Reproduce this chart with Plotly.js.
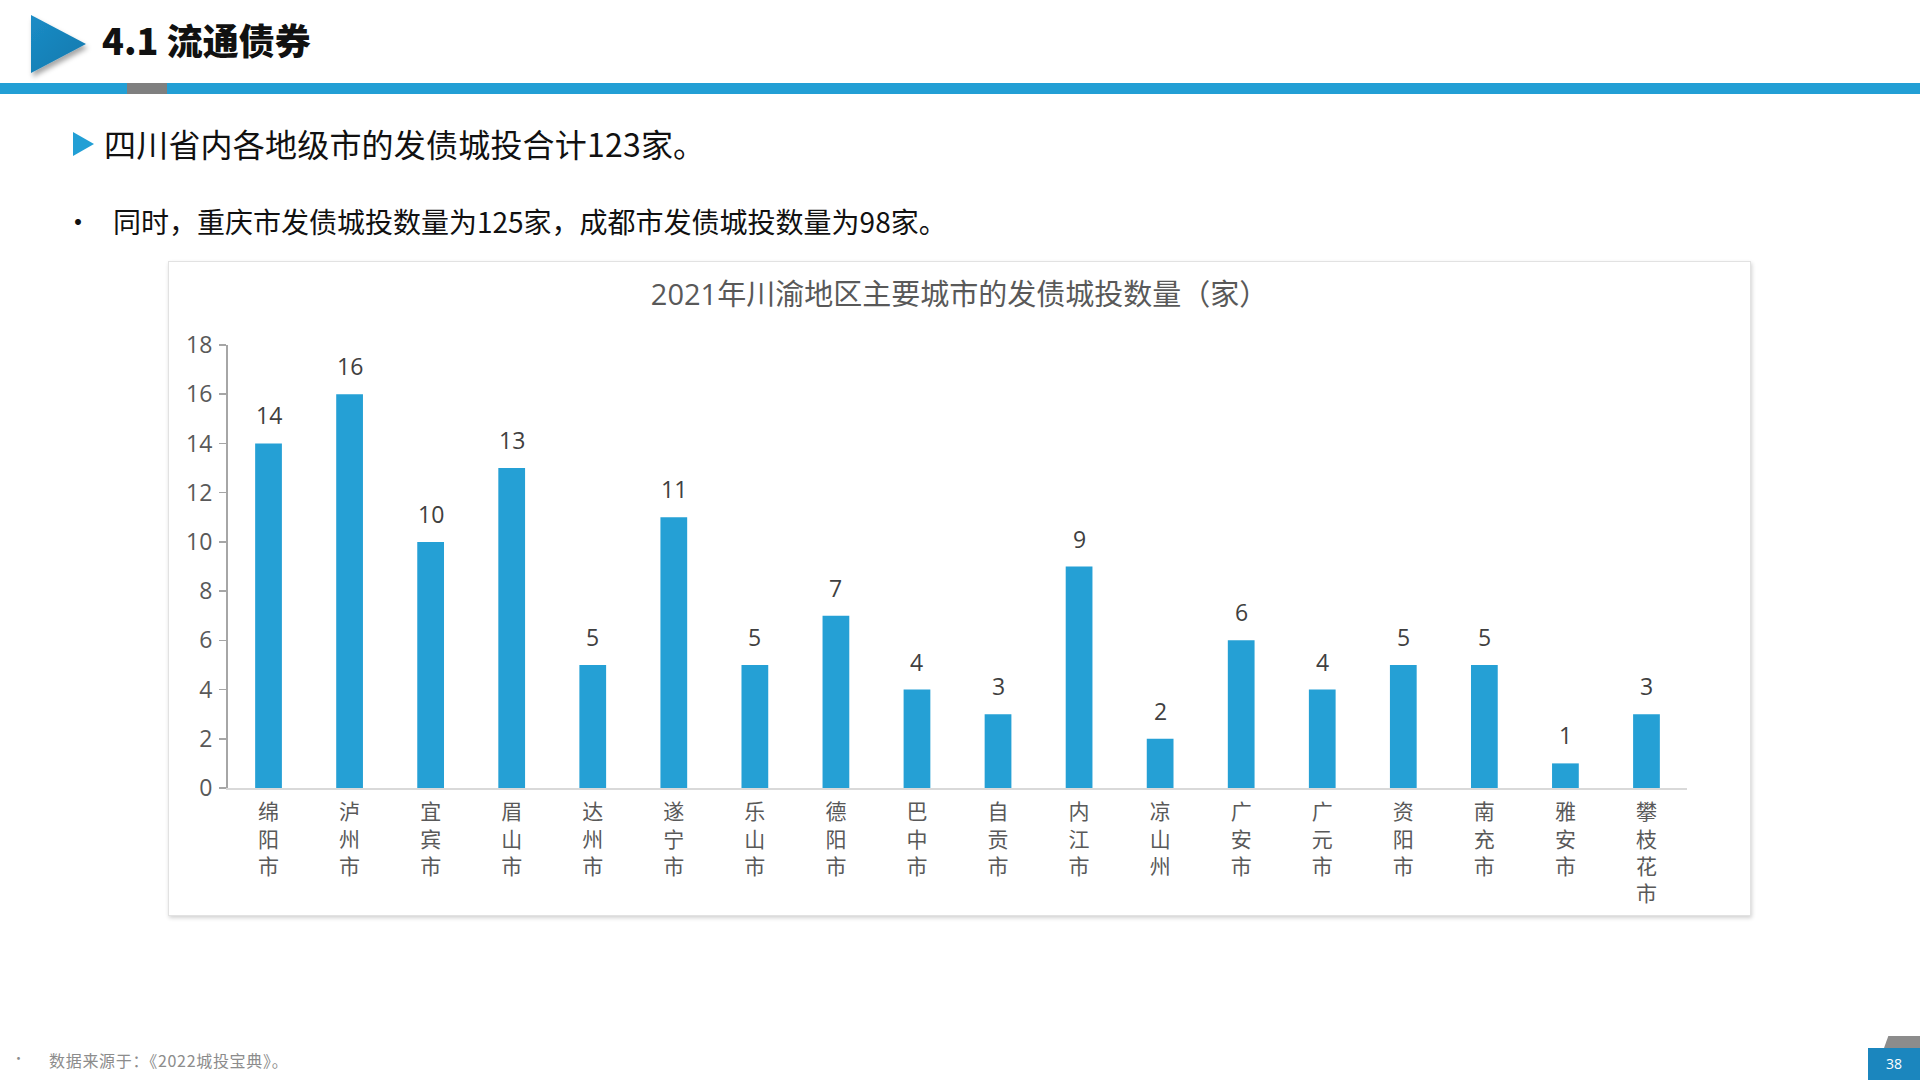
<!DOCTYPE html>
<html>
<head>
<meta charset="utf-8">
<script src="https://cdn.plot.ly/plotly-3.0.1.min.js"></script>
<style>
  html, body { margin:0; padding:0; background:#ffffff; }
  body { width:1920px; height:1080px; position:relative; overflow:hidden;
         font-family:"Noto Sans CJK SC","Microsoft YaHei",sans-serif; }
  .abs { position:absolute; }
  #hdrTitle { left:102px; top:15px; font-size:36px; font-weight:900; color:#111; line-height:48px; }
  #blueBar { left:0; top:83px; width:1920px; height:11px; background:#229FD5; }
  #grayBar { left:127px; top:83px; width:40px; height:11px; background:#7f7f7f; }
  #sub1 { left:104px; top:121px; font-size:32px; color:#111; line-height:44px; letter-spacing:0.2px; }
  #sub1tri { left:73px; top:132px; width:0; height:0; border-top:12px solid transparent; border-bottom:12px solid transparent; border-left:21px solid #229FD5; }
  #sub2 { left:113px; top:201px; font-size:28px; color:#111; line-height:40px; }
  #sub2dot { left:64px; top:201px; font-size:28px; color:#111; line-height:40px; }
  #chartBox { left:168px; top:261px; width:1583px; height:655px; border:1px solid #e2e2e2;
              box-shadow:1px 2px 4px rgba(0,0,0,0.18); background:#fff; box-sizing:border-box; }
  #chart { left:168px; top:261px; width:1583px; height:655px; }
  #foot { left:49px; top:1050px; font-size:16px; color:#8c8c8c; line-height:20px; letter-spacing:0.7px; }
  #footdot { left:12px; top:1048px; font-size:13px; color:#8c8c8c; line-height:20px; }
  #pgTab { left:1884px; top:1036px; width:36px; height:12px; background:#8c8c8c; clip-path:polygon(12% 0,100% 0,100% 100%,0 100%); }
  #pgBox { left:1868px; top:1048px; width:52px; height:32px; background:#1B86BE; color:#fff; font-size:14px; text-align:center; line-height:32px; font-family:"Open Sans",sans-serif; }
</style>
</head>
<body>
<svg class="abs" style="left:20px;top:8px" width="80" height="78">
  <defs>
    <filter id="sh" x="-20%" y="-20%" width="150%" height="150%">
      <feDropShadow dx="2" dy="4" stdDeviation="2.5" flood-color="#000" flood-opacity="0.35"/>
    </filter>
    <linearGradient id="tg" x1="0" y1="0" x2="1" y2="1">
      <stop offset="0" stop-color="#1b8cc6"/>
      <stop offset="1" stop-color="#1479ad"/>
    </linearGradient>
  </defs>
  <polygon points="11,7 66,36 11,65" fill="url(#tg)" filter="url(#sh)"/>
</svg>
<div id="hdrTitle" class="abs">4.1 流通债券</div>
<div id="blueBar" class="abs"></div>
<div id="grayBar" class="abs"></div>
<div id="sub1tri" class="abs"></div>
<div id="sub1" class="abs">四川省内各地级市的发债城投合计123家。</div>
<div id="sub2dot" class="abs">•</div>
<div id="sub2" class="abs">同时，重庆市发债城投数量为125家，成都市发债城投数量为98家。</div>
<div id="chartBox" class="abs"></div>
<div id="chart" class="abs"></div>
<div id="footdot" class="abs">•</div>
<div id="foot" class="abs">数据来源于：《2022城投宝典》。</div>
<div id="pgTab" class="abs"></div>
<div id="pgBox" class="abs">38</div>
<script>
const cities = ["绵阳市","泸州市","宜宾市","眉山市","达州市","遂宁市","乐山市","德阳市","巴中市","自贡市","内江市","凉山州","广安市","广元市","资阳市","南充市","雅安市","攀枝花市"];
const counts = [14,16,10,13,5,11,5,7,4,3,9,2,6,4,5,5,1,3];
const yTicks = [0,2,4,6,8,10,12,14,16,18];
const chartTitle = "2021年川渝地区主要城市的发债城投数量（家）";

const vertLabels = cities.map(c => Array.from(c).join("<br>"));

const trace = {
  type: "bar",
  x: cities,
  y: counts,
  marker: { color: "#25A0D5" },
  hoverinfo: "x+y"
};

const annotations = cities.map((c, i) => ({
  x: c, y: counts[i], xref: "x", yref: "y",
  text: String(counts[i]), showarrow: false,
  yanchor: "bottom", yshift: 10,
  font: { family: "Open Sans, Noto Sans, sans-serif", size: 23, color: "#404040" }
}));

const layout = {
  width: 1583, height: 655,
  margin: { l: 60, r: 64, t: 84, b: 128 },
  paper_bgcolor: "rgba(0,0,0,0)",
  plot_bgcolor: "rgba(0,0,0,0)",
  bargap: 0.67,
  showlegend: false,
  title: {
    text: chartTitle,
    x: 0.5, xanchor: "center",
    y: 1 - 34/655, yanchor: "middle",
    font: { family: "Open Sans, Noto Sans CJK SC, sans-serif", size: 29, color: "#595959" }
  },
  xaxis: {
    type: "category",
    tickvals: cities,
    ticktext: vertLabels,
    tickangle: 0,
    range: [-0.5, cities.length - 0.5],
    showline: true, linecolor: "#d9d9d9", linewidth: 2,
    ticks: "", showgrid: false, zeroline: false,
    tickfont: { family: "Noto Sans CJK SC, sans-serif", size: 21, color: "#595959" },
    ticklabelstandoff: 4
  },
  yaxis: {
    range: [0, 18],
    tickvals: yTicks,
    showline: true, linecolor: "#a6a6a6", linewidth: 2,
    ticks: "outside", ticklen: 7, tickcolor: "#a6a6a6", tickwidth: 1.5,
    showgrid: false, zeroline: false,
    tickfont: { family: "Open Sans, Noto Sans, sans-serif", size: 23, color: "#595959" },
    ticklabelstandoff: 2
  },
  annotations: annotations
};

Plotly.newPlot("chart", [trace], layout, { displayModeBar: false, staticPlot: true });
</script>
</body>
</html>
